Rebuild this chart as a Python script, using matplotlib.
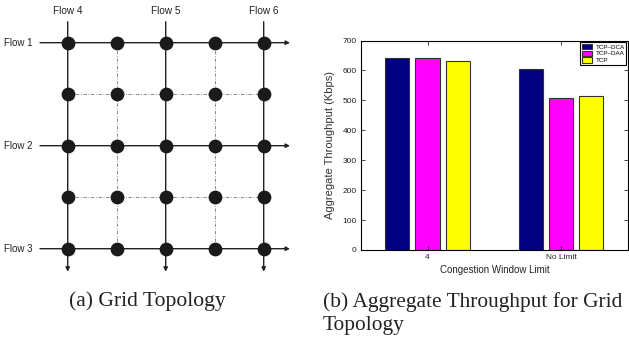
import matplotlib
matplotlib.use('Agg')
import matplotlib.pyplot as plt
import numpy as np

# grid topology (node indices)
grid_cols = [0, 1, 2, 3, 4]
grid_rows = [0, 1, 2, 3, 4]
flow_rows = [0, 2, 4]
flow_row_labels = ['Flow 1', 'Flow 2', 'Flow 3']
flow_cols = [0, 2, 4]
flow_col_labels = ['Flow 4', 'Flow 5', 'Flow 6']
relay_rows = [1, 3]
relay_cols = [1, 3]

# throughput data
categories = ['4', 'No Limit']
tcp_dca = [643, 604]
tcp_daa = [641, 508]
tcp = [630, 514]
series_names = ['TCP\u2013DCA', 'TCP\u2013DAA', 'TCP']
series_colors = ['#000080', '#ff00ff', '#ffff00']

W, H = 629, 337
fig = plt.figure(figsize=(W / 100, H / 100), dpi=100)

# ---- (a) grid topology ----
ax1 = fig.add_axes([0, 0, 310 / W, 1])
ax1.axis('off')
x0, dx = 67.7, 49.0      # pixel position of column 0, column step
y0, dy = 42.7, 51.5      # pixel position of row 0, row step
ax1.set_xlim((0 - x0) / dx, (310 - x0) / dx)
ax1.set_ylim((H - y0) / dy, (0 - y0) / dy)

line_col = '#222222'
# dash-dot inner lines
for r in relay_rows:
    ax1.plot([grid_cols[0], grid_cols[-1]], [r, r], color='#777777', lw=0.6,
             dashes=(4, 2, 1, 2), zorder=1)
for c in relay_cols:
    ax1.plot([c, c], [grid_rows[0], grid_rows[-1]], color='#777777', lw=0.6,
             dashes=(4, 2, 1, 2), zorder=1)

# flow arrows
h_start, h_end = (40 - x0) / dx, (290 - x0) / dx
v_start, v_end = (21.7 - y0) / dy, (271.7 - y0) / dy
for r, lab in zip(flow_rows, flow_row_labels):
    ax1.annotate('', xy=(h_end, r), xytext=(h_start, r),
                 arrowprops=dict(arrowstyle='-|>', color=line_col, lw=1.0,
                                 mutation_scale=6, shrinkA=0, shrinkB=0), zorder=2)
    ax1.text((32 - x0) / dx, r, lab, ha='right', va='center', fontsize=7,
             family='Liberation Sans', color='#222222')
for c, lab in zip(flow_cols, flow_col_labels):
    ax1.annotate('', xy=(c, v_end), xytext=(c, v_start),
                 arrowprops=dict(arrowstyle='-|>', color=line_col, lw=1.0,
                                 mutation_scale=6, shrinkA=0, shrinkB=0), zorder=2)
    ax1.text(c, (10.7 - y0) / dy, lab, ha='center', va='center', fontsize=7.2,
             family='Liberation Sans', color='#222222')

gx, gy = np.meshgrid(grid_cols, grid_rows)
ax1.plot(gx.ravel(), gy.ravel(), 'o', color='#1a1a1a', markersize=8.9, zorder=3)

# ---- (b) aggregate throughput ----
ax2 = fig.add_axes([360.7 / W, (H - 250) / H, 267.3 / W, 209.5 / H])
x = np.arange(1, len(categories) + 1)
offsets = [-0.225, 0, 0.225]
for vals, off, name, col in zip([tcp_dca, tcp_daa, tcp], offsets, series_names, series_colors):
    ax2.bar(x + off, vals, width=0.18, color=col, edgecolor='#333333', linewidth=0.8, label=name)
ax2.set_xlim(0.5, 2.5)
ax2.set_ylim(0, 700)
ax2.set_yticks(range(0, 701, 100))
ax2.set_xticks(x)
ax2.set_xticklabels(categories)
ax2.tick_params(direction='in', length=3, width=0.6, labelsize=6, pad=3,
                top=True, right=True, colors='#222222')
for lbl in ax2.get_xticklabels() + ax2.get_yticklabels():
    lbl.set_family('Liberation Sans')
for s in ax2.spines.values():
    s.set_linewidth(0.8)
ax2.set_xlabel('Congestion Window Limit', fontsize=7, family='Liberation Sans',
               labelpad=3, color='#222222')
ax2.set_ylabel('Aggregate Throughput (Kbps)', fontsize=8, family='Liberation Sans',
               labelpad=5, color='#333333')
leg = ax2.legend(loc='upper right', bbox_to_anchor=(1.0, 1.0),
                 prop={'family': 'Liberation Sans', 'size': 4.5},
                 fancybox=False, framealpha=1, edgecolor='black',
                 handlelength=1.7, handleheight=0.9, labelspacing=0.15,
                 borderpad=0.3, borderaxespad=0.25, handletextpad=0.5)
leg.get_frame().set_linewidth(0.8)

# ---- captions ----
fig.text(147 / W, 1 - 306 / H, '(a) Grid Topology', ha='center', va='baseline',
         fontsize=15.6, family='Liberation Serif', color='#222222')
fig.text(323 / W, 1 - 306.7 / H, '(b) Aggregate Throughput for Grid', ha='left',
         va='baseline', fontsize=15.4, family='Liberation Serif', color='#222222')
fig.text(323 / W, 1 - 330 / H, 'Topology', ha='left', va='baseline',
         fontsize=15.4, family='Liberation Serif', color='#222222')

fig.savefig('out.png', dpi=100)
